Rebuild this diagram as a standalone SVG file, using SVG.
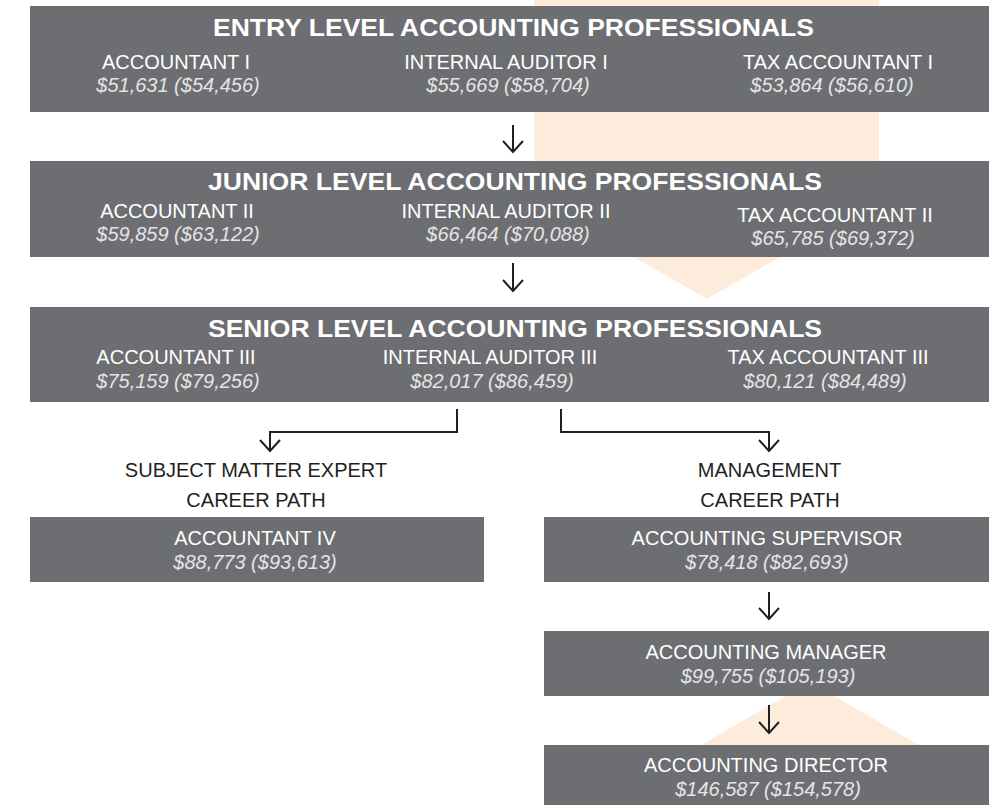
<svg xmlns="http://www.w3.org/2000/svg" width="989" height="805" viewBox="0 0 989 805">
<defs>
<style>
.box{fill:#6d6e71}
.bg{fill:#fdecdc}
.t{font-family:"Liberation Sans",Arial,sans-serif;font-weight:bold;font-size:24px;fill:#ffffff;text-anchor:middle}
.s{font-family:"Liberation Sans",Arial,sans-serif;font-size:20px;fill:#ffffff;text-anchor:middle}
.v{font-family:"Liberation Sans",Arial,sans-serif;font-size:20px;font-style:italic;fill:#e4e4e6;text-anchor:middle}
.k{font-family:"Liberation Sans",Arial,sans-serif;font-size:20px;fill:#231f20;text-anchor:middle}
.c{fill:none;stroke:#231f20;stroke-width:2}
</style>
<marker id="ah" viewBox="0 0 24 14" refX="12" refY="12" markerWidth="24" markerHeight="14" markerUnits="userSpaceOnUse" orient="0">
<path d="M2,1 L12,12 L22,1" fill="none" stroke="#231f20" stroke-width="2"/>
</marker>
</defs>
<g id="background">
<polygon class="bg" points="534,0 879,0 879,200 707,299 534,200"/>
<polygon class="bg" points="810,682 983,782 983,805 637,805 637,782"/>
</g>
<g id="entry">
<rect class="box" x="30" y="6" width="959" height="106"/>
<text class="t" x="513.5" y="36" textLength="601" lengthAdjust="spacingAndGlyphs">ENTRY LEVEL ACCOUNTING PROFESSIONALS</text>
<text class="s" x="176" y="69">ACCOUNTANT I</text>
<text class="v" x="178" y="92">$51,631 ($54,456)</text>
<text class="s" x="506" y="69">INTERNAL AUDITOR I</text>
<text class="v" x="508" y="92">$55,669 ($58,704)</text>
<text class="s" x="838" y="69">TAX ACCOUNTANT I</text>
<text class="v" x="832" y="92">$53,864 ($56,610)</text>
</g>
<g id="junior">
<rect class="box" x="30" y="161" width="959" height="96"/>
<text class="t" x="515" y="190" textLength="614" lengthAdjust="spacingAndGlyphs">JUNIOR LEVEL ACCOUNTING PROFESSIONALS</text>
<text class="s" x="177" y="218">ACCOUNTANT II</text>
<text class="v" x="178" y="241">$59,859 ($63,122)</text>
<text class="s" x="506" y="218">INTERNAL AUDITOR II</text>
<text class="v" x="508" y="241">$66,464 ($70,088)</text>
<text class="s" x="835" y="222">TAX ACCOUNTANT II</text>
<text class="v" x="833" y="245">$65,785 ($69,372)</text>
</g>
<g id="senior">
<rect class="box" x="30" y="307" width="959" height="95"/>
<text class="t" x="515" y="337" textLength="614" lengthAdjust="spacingAndGlyphs">SENIOR LEVEL ACCOUNTING PROFESSIONALS</text>
<text class="s" x="176" y="364">ACCOUNTANT III</text>
<text class="v" x="178" y="388">$75,159 ($79,256)</text>
<text class="s" x="490" y="364">INTERNAL AUDITOR III</text>
<text class="v" x="492" y="388">$82,017 ($86,459)</text>
<text class="s" x="828" y="364">TAX ACCOUNTANT III</text>
<text class="v" x="825" y="388">$80,121 ($84,489)</text>
</g>
<g id="sme-label">
<text class="k" x="256" y="477">SUBJECT MATTER EXPERT</text>
<text class="k" x="256" y="507">CAREER PATH</text>
</g>
<g id="mgmt-label">
<text class="k" x="769.5" y="477">MANAGEMENT</text>
<text class="k" x="770" y="507">CAREER PATH</text>
</g>
<g id="accountant-iv">
<rect class="box" x="30" y="517" width="454" height="65"/>
<text class="s" x="255" y="545">ACCOUNTANT IV</text>
<text class="v" x="255" y="569">$88,773 ($93,613)</text>
</g>
<g id="supervisor">
<rect class="box" x="544" y="517" width="445" height="65"/>
<text class="s" x="767" y="545">ACCOUNTING SUPERVISOR</text>
<text class="v" x="767" y="569">$78,418 ($82,693)</text>
</g>
<g id="manager">
<rect class="box" x="544" y="631" width="445" height="65"/>
<text class="s" x="766" y="659">ACCOUNTING MANAGER</text>
<text class="v" x="768" y="683">$99,755 ($105,193)</text>
</g>
<g id="director">
<rect class="box" x="544" y="745" width="445" height="60"/>
<text class="s" x="766" y="772">ACCOUNTING DIRECTOR</text>
<text class="v" x="768" y="796">$146,587 ($154,578)</text>
</g>
<g id="connectors">
<path class="c" d="M513,125 V152" marker-end="url(#ah)"/>
<path class="c" d="M513,263 V291" marker-end="url(#ah)"/>
<path class="c" d="M457,409 V432 H270 V451" marker-end="url(#ah)"/>
<path class="c" d="M561,409 V432 H769 V451" marker-end="url(#ah)"/>
<path class="c" d="M769,592 V619" marker-end="url(#ah)"/>
<path class="c" d="M769,705 V733" marker-end="url(#ah)"/>
</g>
</svg>
